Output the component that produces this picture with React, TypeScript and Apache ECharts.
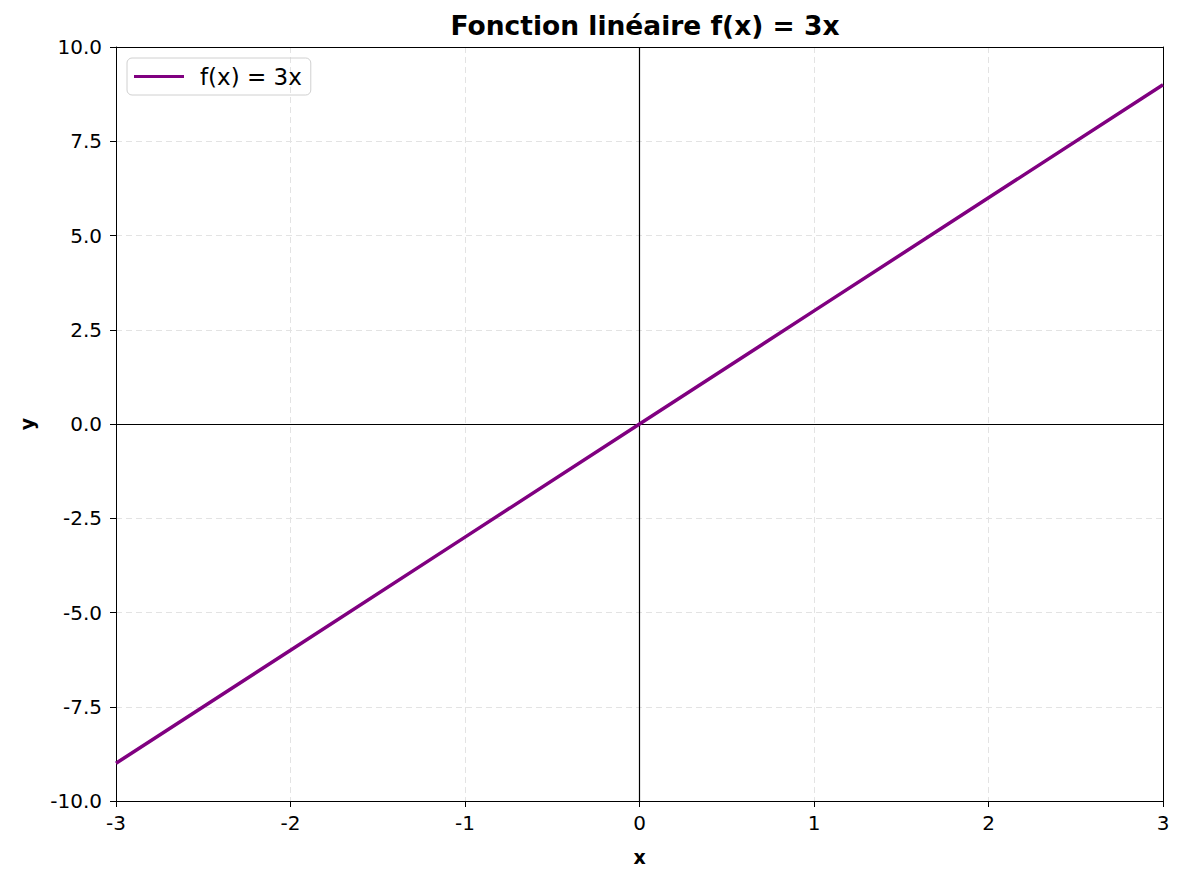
import React, { useEffect, useRef } from "react";
import * as echarts from "echarts";

const xValues = [-3, -2, -1, 0, 1, 2, 3];
const yValues = [-9, -6, -3, 0, 3, 6, 9];
const seriesName = "f(x) = 3x";
const titleText = "Fonction linéaire f(x) = 3x";

export default function App() {
  const ref = useRef<HTMLDivElement>(null);
  useEffect(() => {
    if (!ref.current) return;
    const chart = echarts.init(ref.current, null, { renderer: "svg" });
    const font = "'DejaVu Sans', sans-serif";
    const frameAxis = {
      axisLine: { show: true, onZero: false, lineStyle: { color: "#000", width: 1 } },
      axisTick: { show: false },
      axisLabel: { show: false },
      splitLine: { show: false },
    };
    chart.setOption({
      animation: false,
      backgroundColor: "#fff",
      textStyle: { fontFamily: font },
      title: {
        text: titleText,
        left: 640,
        textAlign: "center",
        top: 7,
        textStyle: { fontFamily: font, fontSize: 26.5, fontWeight: "bold", color: "#000" },
      },
      grid: {
        left: 116,
        right: 21,
        top: 47,
        bottom: 83,
        containLabel: false,
      },
      legend: {
        left: 127,
        top: 58,
        padding: [7, 9, 7, 7],
        borderColor: "#d0d0d0",
        borderWidth: 1,
        borderRadius: 5,
        itemWidth: 50,
        itemHeight: 3,
        itemGap: 10,
        textStyle: { fontFamily: font, fontSize: 23, color: "#000", padding: [0, 0, 0, 11] },
        data: [{ name: seriesName, icon: "rect" }],
      },
      xAxis: [
        {
          type: "value",
          min: -3,
          max: 3,
          interval: 1,
          name: "x",
          nameLocation: "middle",
          nameGap: 46,
          nameTextStyle: { fontFamily: font, fontSize: 19, fontWeight: "bold", color: "#000" },
          axisLine: { show: true, onZero: false, lineStyle: { color: "#000", width: 1 } },
          axisTick: { show: true, inside: false, length: 6, lineStyle: { color: "#000" } },
          axisLabel: { fontFamily: font, fontSize: 20, color: "#000", margin: 12 },
          splitLine: { show: true, lineStyle: { color: "#e3e3e3", type: [6, 4], width: 1 } },
        },
        { type: "value", position: "top", min: -3, max: 3, interval: 1, ...frameAxis },
      ],
      yAxis: [
        {
          type: "value",
          min: -10,
          max: 10,
          interval: 2.5,
          name: "y",
          nameLocation: "middle",
          nameGap: 80,
          nameRotate: 90,
          nameTextStyle: { fontFamily: font, fontSize: 19, fontWeight: "bold", color: "#000" },
          axisLine: { show: true, onZero: false, lineStyle: { color: "#000", width: 1 } },
          axisTick: { show: true, inside: false, length: 6, lineStyle: { color: "#000" } },
          axisLabel: {
            fontFamily: font,
            fontSize: 20,
            color: "#000",
            margin: 14,
            formatter: (v: number) => v.toFixed(1),
          },
          splitLine: { show: true, lineStyle: { color: "#e3e3e3", type: [6, 4], width: 1 } },
        },
        { type: "value", position: "right", min: -10, max: 10, interval: 2.5, ...frameAxis },
      ],
      series: [
        {
          name: seriesName,
          type: "line",
          data: xValues.map((x, i) => [x, yValues[i]]),
          symbol: "none",
          lineStyle: { color: "#800080", width: 3.5 },
          itemStyle: { color: "#800080" },
          z: 5,
          markLine: {
            silent: true,
            symbol: "none",
            label: { show: false },
            lineStyle: { color: "#000", width: 1.2, type: "solid" },
            data: [{ xAxis: 0 }, { yAxis: 0 }],
            z: 3,
          },
        },
      ],
    });
    return () => chart.dispose();
  }, []);
  return <div ref={ref} style={{ width: 1184, height: 884, margin: -8 }} />;
}
